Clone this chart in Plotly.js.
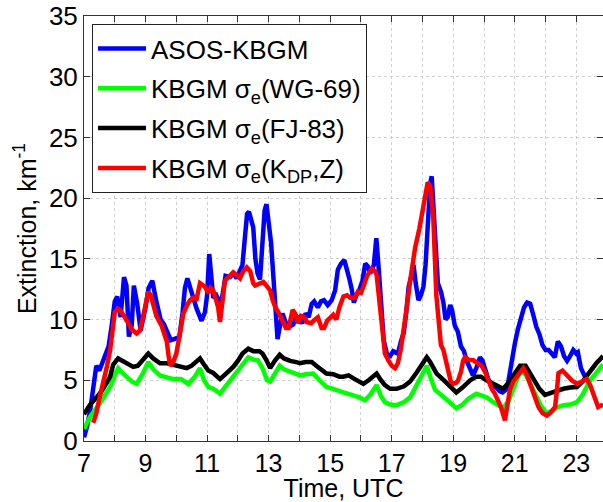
<!DOCTYPE html>
<html>
<head>
<meta charset="utf-8">
<script src="https://cdn.plot.ly/plotly-3.0.1.min.js"></script>
<style>html,body{margin:0;padding:0;background:#fff}#chart{width:603px;height:502px}</style>
</head>
<body>
<div id="chart"></div>
<script>
// ASOS-KBGM observed extinction
const asosT = [7.0,7.1,7.2,7.3,7.4,7.5,7.6,7.7,7.8,7.9,8.0,8.08,8.19,8.3,8.38,8.46,8.55,8.62,8.73,8.84,8.92,9.0,9.1,9.22,9.35,9.49,9.6,9.7,9.82,9.95,10.1,10.2,10.28,10.36,10.45,10.55,10.66,10.82,10.93,11.0,11.07,11.15,11.2,11.3,11.42,11.5,11.6,11.75,11.85,11.96,12.07,12.15,12.22,12.3,12.36,12.43,12.5,12.57,12.64,12.72,12.8,12.87,12.93,13.0,13.08,13.19,13.29,13.37,13.45,13.55,13.67,13.8,13.9,14.0,14.09,14.2,14.3,14.4,14.48,14.6,14.7,14.8,14.92,15.05,15.16,15.25,15.35,15.46,15.55,15.62,15.7,15.77,15.85,15.93,16.05,16.14,16.22,16.3,16.42,16.5,16.58,16.66,16.74,16.85,16.95,17.05,17.12,17.2,17.3,17.39,17.47,17.55,17.63,17.71,17.78,17.87,17.95,18.03,18.1,18.17,18.25,18.3,18.36,18.42,18.5,18.6,18.68,18.75,18.82,18.9,18.96,19.05,19.15,19.25,19.35,19.43,19.55,19.64,19.75,19.87,19.95,20.05,20.15,20.25,20.4,20.5,20.6,20.75,20.85,21.0,21.1,21.2,21.3,21.4,21.5,21.6,21.7,21.8,21.9,22.0,22.1,22.2,22.3,22.4,22.5,22.6,22.7,22.8,22.9,23.0,23.05,23.15,23.25,23.3];
const asosV = [0.3,1.2,2.5,4.5,6.2,5.8,6.5,7.2,7.8,9.5,11.5,11.9,10.2,13.5,12.8,8.6,9.5,12.8,11.3,9.1,10.0,11.0,12.6,13.2,11.5,10.0,9.6,9.0,8.3,8.4,8.6,10.5,12.6,13.4,12.5,11.8,10.9,9.9,10.6,12.0,15.4,12.5,11.8,12.0,11.3,12.0,13.6,13.5,13.8,13.4,14.1,14.5,16.5,18.7,18.9,18.3,17.6,15.0,13.8,13.3,16.0,19.0,19.5,17.8,16.3,12.2,8.4,9.5,10.5,9.8,9.4,9.6,10.3,10.0,9.7,10.5,10.2,11.3,11.5,11.0,11.5,11.6,11.2,11.6,12.4,14.1,14.6,14.9,14.2,13.4,12.5,11.4,12.0,12.3,13.2,14.6,14.4,13.8,14.5,16.7,14.1,11.0,8.3,7.1,7.0,7.4,7.3,7.2,8.2,8.9,10.5,12.7,13.5,14.5,13.0,11.6,12.0,12.7,14.5,18.0,21.2,21.8,19.0,15.5,13.0,12.3,11.4,10.0,10.2,11.2,10.8,9.5,9.0,7.8,7.4,6.65,6.0,5.4,6.0,6.9,6.6,5.7,5.0,4.6,4.4,4.1,4.0,4.3,6.0,8.0,9.2,10.2,11.0,11.4,11.3,10.4,9.4,8.8,7.9,7.5,7.5,7.2,6.9,8.2,7.8,7.0,6.6,7.0,7.5,7.2,7.3,6.0,5.4,5.2];

// KBGM sigma_e (WG-69)
const wgT = [7.0,7.2,7.52,7.85,8.0,8.11,8.25,8.38,8.55,8.71,8.9,9.09,9.25,9.47,9.7,9.9,10.15,10.39,10.6,10.77,10.9,11.04,11.2,11.42,11.6,11.85,12.05,12.2,12.34,12.5,12.65,12.8,12.95,13.05,13.2,13.36,13.5,13.7,13.9,14.02,14.2,14.45,14.65,14.88,15.1,15.25,15.43,15.7,15.95,16.13,16.3,16.51,16.65,16.78,16.95,17.16,17.4,17.6,17.8,18.0,18.14,18.25,18.41,18.7,18.9,19.1,19.3,19.5,19.75,19.9,20.08,20.3,20.5,20.62,20.8,21.0,21.17,21.35,21.6,21.85,22.04,22.2,22.4,22.58,22.8,23.02,23.2,23.45,23.65,23.87];
const wgV = [1.0,2.0,3.1,4.45,5.4,6.0,5.6,5.3,4.9,4.7,5.5,6.5,5.9,5.4,5.2,5.1,5.1,4.7,5.3,6.0,5.0,4.45,4.3,3.9,4.5,5.3,5.9,6.5,6.9,6.7,6.65,6.0,5.0,4.9,5.6,6.2,5.9,5.7,5.55,5.4,5.5,5.55,5.0,4.45,4.3,4.2,4.0,3.8,3.6,3.35,3.8,4.6,3.7,3.2,3.0,2.95,3.2,3.6,4.5,5.5,6.2,5.3,4.2,3.6,3.1,2.7,3.0,3.5,3.9,3.8,3.6,3.2,2.9,2.7,3.3,4.6,5.7,5.5,4.2,2.9,2.25,2.5,2.8,2.95,3.0,3.2,3.8,5.0,5.6,6.3];

// KBGM sigma_e (FJ-83)
const fjT = [7.0,7.2,7.41,7.6,7.85,7.95,8.11,8.25,8.4,8.6,8.75,8.95,9.09,9.25,9.47,9.7,9.9,10.1,10.34,10.5,10.65,10.77,10.9,11.04,11.2,11.42,11.6,11.85,12.0,12.15,12.34,12.5,12.7,12.8,12.93,13.05,13.2,13.36,13.5,13.7,13.9,14.02,14.2,14.4,14.6,14.88,15.1,15.3,15.43,15.6,15.8,15.95,16.08,16.25,16.4,16.51,16.65,16.78,16.95,17.16,17.4,17.6,17.8,18.0,18.14,18.25,18.46,18.7,18.9,19.1,19.3,19.55,19.75,19.9,20.08,20.3,20.5,20.62,20.8,21.0,21.17,21.35,21.6,21.8,21.98,22.2,22.4,22.58,22.8,23.02,23.2,23.45,23.65,23.87];
const fjV = [2.2,3.0,3.6,4.2,5.3,6.3,6.8,6.6,6.4,6.1,6.2,6.8,7.2,6.8,6.4,6.4,6.3,6.2,6.0,6.2,6.5,6.8,6.3,5.8,5.6,5.1,5.5,6.1,6.6,7.2,7.6,7.4,7.4,7.2,6.65,6.0,6.6,7.1,6.8,6.6,6.5,6.4,6.5,6.5,6.1,5.55,5.5,5.3,5.3,5.4,5.1,4.9,4.7,5.0,5.3,5.55,5.0,4.6,4.3,4.3,4.5,4.9,5.6,6.3,6.9,6.5,5.55,5.0,4.5,4.0,4.4,5.0,5.3,5.3,5.0,4.7,4.4,4.3,4.8,5.6,6.2,6.2,5.1,4.3,3.8,4.0,4.2,4.3,4.4,4.45,4.9,5.8,6.4,7.0];

// KBGM sigma_e (KDP, Z)
const kdpT = [7.3,7.4,7.5,7.63,7.75,7.85,7.93,8.0,8.1,8.17,8.3,8.44,8.55,8.71,8.82,8.9,9.0,9.09,9.17,9.25,9.35,9.52,9.6,9.69,9.75,9.8,9.9,10.0,10.1,10.23,10.35,10.45,10.55,10.66,10.77,10.85,10.93,11.04,11.12,11.2,11.3,11.36,11.42,11.5,11.58,11.7,11.85,11.95,12.07,12.18,12.29,12.4,12.5,12.56,12.7,12.83,12.93,13.05,13.13,13.22,13.32,13.45,13.56,13.65,13.72,13.78,13.86,13.95,14.05,14.16,14.24,14.38,14.5,14.6,14.72,14.8,14.9,15.0,15.1,15.2,15.3,15.43,15.55,15.65,15.81,15.9,16.0,16.08,16.2,16.35,16.45,16.51,16.6,16.7,16.78,16.9,17.0,17.11,17.2,17.3,17.38,17.5,17.6,17.76,17.9,18.0,18.1,18.17,18.25,18.35,18.45,18.5,18.6,18.68,18.76,18.84,18.92,19.0,19.1,19.16,19.25,19.32,19.38,19.5,19.65,19.8,19.92,20.05,20.14,20.25,20.35,20.45,20.55,20.68,20.76,20.84,20.95,21.06,21.18,21.28,21.4,21.5,21.6,21.7,21.77,21.9,22.04,22.15,22.31,22.37,22.42,22.55,22.7,22.85,23.02,23.15,23.34,23.45,23.55,23.71,23.87];
const kdpV = [1.5,2.3,3.5,4.8,6.2,7.5,9.0,10.6,10.9,10.8,10.3,9.7,9.2,8.85,9.1,10.0,11.5,12.3,12.0,11.3,10.3,9.5,8.9,8.2,7.0,6.2,6.5,7.2,8.6,10.5,11.2,11.6,11.8,11.7,13.0,12.9,12.7,12.2,12.6,12.4,11.5,11.0,9.8,11.5,13.2,13.5,13.9,13.7,13.4,14.0,14.3,14.0,13.0,12.8,13.0,13.1,12.8,12.4,11.6,11.0,10.6,9.8,9.3,9.3,10.0,10.8,10.5,9.7,10.3,10.2,9.8,9.7,10.0,10.2,9.3,9.3,9.9,10.2,10.4,10.0,11.0,11.9,12.0,11.8,11.8,12.3,12.2,12.7,13.6,14.2,14.0,13.7,11.5,9.0,7.2,6.6,6.2,6.0,6.4,7.6,8.85,11.2,13.2,15.9,17.5,19.0,20.6,21.3,21.0,18.5,12.0,10.5,7.9,7.5,6.5,5.6,4.9,4.7,4.8,5.0,5.7,6.6,6.9,6.7,6.65,6.4,6.2,5.6,5.0,4.3,3.9,3.4,2.8,1.7,2.8,4.2,4.9,5.3,5.7,6.0,5.4,4.7,3.8,3.1,2.8,2.3,2.1,2.3,2.8,4.2,5.6,5.8,5.4,5.0,4.7,4.9,5.1,4.6,3.9,2.8,3.0];

const seriesNames = ['ASOS-KBGM', 'KBGM σ<sub>e</sub>(WG-69)', 'KBGM σ<sub>e</sub>(FJ-83)', 'KBGM σ<sub>e</sub>(K<sub>DP</sub>,Z)'];
const xTickVals = [7, 9, 11, 13, 15, 17, 19, 21, 23];
const yTickVals = [0, 5, 10, 15, 20, 25, 30, 35];

const colors = ['#0000ff', '#00ff00', '#000000', '#ff0000'];
const xs = [asosT, wgT, fjT, kdpT];
const ys = [asosV, wgV, fjV, kdpV];

const traces = xs.map((x, i) => ({
  x: x, y: ys[i], type: 'scatter', mode: 'lines', name: seriesNames[i],
  legendgroup: 'g' + i,
  line: {color: colors[i], width: 4.5}
}));
traces.push({x: [], y: [], yaxis: 'y2', type: 'scatter', mode: 'lines', showlegend: false, hoverinfo: 'skip'});

const font = 'Liberation Sans, Arial, sans-serif';
const grid = '#cfcfcf';
const layout = {
  width: 603, height: 502,
  margin: {l: 84, r: 0, t: 16, b: 61, pad: 0},
  paper_bgcolor: '#ffffff', plot_bgcolor: '#ffffff',
  font: {family: font, size: 24, color: '#000'},
  showlegend: true,
  legend: {
    x: 0.0154, y: 0.981, xanchor: 'left', yanchor: 'top',
    bgcolor: '#ffffff', bordercolor: '#222', borderwidth: 1,
    font: {family: font, size: 26, color: '#000'},
    itemwidth: 48, tracegroupgap: 3
  },
  xaxis: {
    range: [7, 23.867], tickvals: xTickVals, ticks: 'inside', ticklen: 6, tickcolor: '#333',
    showline: true, linecolor: '#333', linewidth: 1, mirror: 'allticks',
    showgrid: true, gridcolor: grid, griddash: 'dot', gridwidth: 1, zeroline: false,
    minor: {tick0: 7, dtick: 1, ticks: 'inside', ticklen: 6, tickcolor: '#333', showgrid: true, gridcolor: grid, griddash: 'dot'},
    tickfont: {size: 25},
    title: {text: 'Time, UTC', font: {size: 25}, standoff: 5}
  },
  yaxis: {
    range: [0, 35], tickvals: yTickVals, ticks: 'inside', ticklen: 6, tickcolor: '#333',
    showline: true, linecolor: '#333', linewidth: 1,
    showgrid: true, gridcolor: grid, griddash: 'dot', gridwidth: 1, zeroline: false,
    tickfont: {size: 26},
    title: {text: 'Extinction, km<sup>-1</sup>', font: {size: 25}, standoff: 5}
  },
  yaxis2: {
    overlaying: 'y', side: 'right', range: [0, 35], tickvals: yTickVals,
    ticks: 'inside', ticklen: 6, tickcolor: '#333', showticklabels: false,
    showline: false, showgrid: false, zeroline: false
  }
};

Plotly.newPlot('chart', traces, layout, {displayModeBar: false, staticPlot: true});
</script>
</body>
</html>
